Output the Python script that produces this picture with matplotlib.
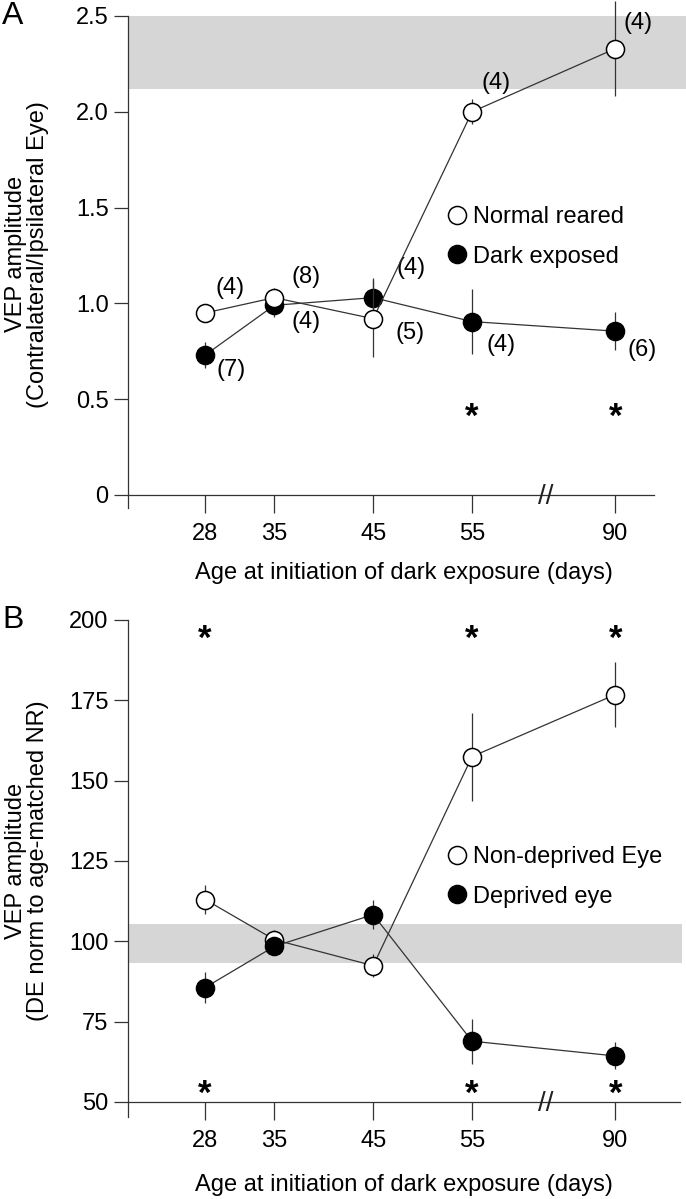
import numpy as np
import matplotlib
matplotlib.use('Agg')
import matplotlib.pyplot as plt
from matplotlib import font_manager
from matplotlib.lines import Line2D

names = {f.name for f in font_manager.fontManager.ttflist}
FAM = 'Liberation Sans Narrow' if 'Liberation Sans Narrow' in names else 'Liberation Sans'
plt.rcParams['font.family'] = [FAM, 'DejaVu Sans']

# ---------------- data ----------------
days = [28, 35, 45, 55, 90]
tick_labels = ['28', '35', '45', '55', '90']

# Panel A: contra/ipsi ratio
nr_mean = [0.95, 1.03, 0.92, 2.00, 2.33]
nr_err = [0.03, 0.05, 0.20, 0.065, 0.25]
nr_n = [4, 8, 5, 4, 4]
de_mean = [0.73, 0.99, 1.03, 0.905, 0.855]
de_err = [0.066, 0.06, 0.10, 0.17, 0.10]
de_n = [7, 4, 4, 4, 6]
sigA = [55, 90]
bandA = (2.12, 2.5)

# Panel B: DE normalised to age-matched NR
nd_mean = [113.0, 100.5, 92.4, 157.5, 176.8]
nd_err = [4.4, 3.0, 3.5, 13.7, 10.0]
dv_mean = [85.6, 98.4, 108.3, 68.9, 64.3]
dv_err = [4.9, 2.0, 4.4, 7.0, 4.2]
sigB = [28, 55, 90]
bandB = (93.3, 105.4)

# ---------------- style ----------------
FS = 17
W, H = 686, 1199
LC = '#333333'
BAND = '#d6d6d6'
MS = 13
K = 14.5 / 35.0  # compression of broken segment beyond 55 days


def fwd(x):
    x = np.asarray(x, dtype=float)
    return np.where(x <= 55, x, 55 + (x - 55) * K)


def inv(x):
    x = np.asarray(x, dtype=float)
    return np.where(x <= 55, x, 55 + (x - 55) / K)


fig = plt.figure(figsize=(W / 100, H / 100), dpi=100)
axA = fig.add_axes([128 / W, 1 - 508 / H, 526 / W, 492 / H])
axB = fig.add_axes([128 / W, 1 - 1117 / H, 552 / W, 497 / H])


def style_axes(ax, ylim, yticks, yticklabels, xright_px, base):
    ax.set_xscale('function', functions=(fwd, inv))
    ax.set_xlim(20.2, float(inv(55 + (xright_px - 472) / 9.89)))
    ax.set_ylim(*ylim)
    for s in ['top', 'right']:
        ax.spines[s].set_visible(False)
    ax.spines['bottom'].set_position(('data', base))
    for s in ['left', 'bottom']:
        ax.spines[s].set_linewidth(0.9)
        ax.spines[s].set_color(LC)
    ax.set_xticks(days)
    ax.set_xticklabels(tick_labels)
    ax.set_yticks(yticks)
    ax.set_yticklabels(yticklabels)
    ax.tick_params(axis='x', direction='out', length=13, width=0.9, color=LC,
                   pad=7, labelsize=FS)
    ax.tick_params(axis='y', direction='out', length=10, width=0.9, color=LC,
                   pad=4, labelsize=FS)
    ax.minorticks_off()
    ax.annotate('//', xy=(72.9, base), xytext=(0, -2), textcoords='offset pixels',
                ha='center', va='center', fontsize=20, color='#222222', zorder=6,
                annotation_clip=False)
    ax.set_xlabel('Age at initiation of dark exposure (days)', fontsize=FS)
    ax.xaxis.label.set_va('center')


def draw_series(ax, mean, err, filled, z):
    ax.errorbar(days, mean, yerr=err, fmt='none', ecolor=LC, elinewidth=0.9,
                capsize=0, zorder=z, clip_on=False)
    ax.plot(days, mean, '-', color=LC, lw=0.9, zorder=z + 0.1, clip_on=False)
    ax.plot(days, mean, 'o', ls='none', ms=MS,
            mfc='black' if filled else 'white', mec='black', mew=1.1,
            zorder=z + 0.2, clip_on=False)


def set_ylabel(ax, text, axw):
    ax.set_ylabel(text, fontsize=FS, linespacing=1.05)
    ax.yaxis.label.set_va('center')
    ax.yaxis.set_label_coords((27 - 128) / axw, 0.516)


# ---------------- Panel A ----------------
style_axes(axA, (-0.068, 2.5), [0, 0.5, 1.0, 1.5, 2.0, 2.5],
           ['0', '0.5', '1.0', '1.5', '2.0', '2.5'], 654, 0)
axA.axhspan(bandA[0], bandA[1], xmin=0, xmax=(W - 128) / 526, color=BAND,
            lw=0, zorder=0, clip_on=False)
draw_series(axA, de_mean, de_err, True, 3)
draw_series(axA, nr_mean, nr_err, False, 4)

nr_off = [(25, -25), (32, -21), (37, 14), (24, -29), (23, -26)]
de_off = [(26, 15), (32, 17), (38, -30), (29, 23), (27, 19)]
for d, m, n, (dx, dy) in zip(days, nr_mean, nr_n, nr_off):
    axA.annotate(f'({n})', xy=(d, m), xytext=(dx, -dy), textcoords='offset pixels',
                 ha='center', va='center', fontsize=FS, annotation_clip=False)
for d, m, n, (dx, dy) in zip(days, de_mean, de_n, de_off):
    axA.annotate(f'({n})', xy=(d, m), xytext=(dx, -dy), textcoords='offset pixels',
                 ha='center', va='center', fontsize=FS, annotation_clip=False)
for d in sigA:
    axA.annotate('*', xy=(d, 0.45), xytext=(0, -18), textcoords='offset pixels',
                 ha='center', va='baseline', fontsize=25, fontweight='bold')

set_ylabel(axA, 'VEP amplitude\n(Contralateral/Ipsilateral Eye)', 526)
axA.xaxis.set_label_coords((404 - 128) / 526, (508 - 573) / 492)

hA = [Line2D([], [], ls='none', marker='o', ms=MS, mfc='white', mec='black', mew=1.1),
      Line2D([], [], ls='none', marker='o', ms=MS, mfc='black', mec='black', mew=1.1)]
axA.legend(hA, ['Normal reared', 'Dark exposed'], loc='upper left',
           bbox_to_anchor=(445 / W, 1 - 206 / H), bbox_transform=fig.transFigure,
           frameon=False, handlelength=1.0, handletextpad=0.2, labelspacing=0.75,
           borderpad=0, borderaxespad=0, fontsize=FS)

fig.text(2 / W, 1 - 16 / H, 'A', fontsize=23, ha='left', va='center')

# ---------------- Panel B ----------------
style_axes(axB, (45.3, 200), [50, 75, 100, 125, 150, 175, 200],
           ['50', '75', '100', '125', '150', '175', '200'], 680, 50)
axB.axhspan(bandB[0], bandB[1], xmin=0, xmax=(682 - 128) / 552, color=BAND,
            lw=0, zorder=0, clip_on=False)
draw_series(axB, nd_mean, nd_err, False, 3)
draw_series(axB, dv_mean, dv_err, True, 4)
for d in sigB:
    axB.annotate('*', xy=(d, 196), xytext=(0, -16), textcoords='offset pixels',
                 ha='center', va='baseline', fontsize=25, fontweight='bold')
    axB.annotate('*', xy=(d, 54.5), xytext=(0, -16), textcoords='offset pixels',
                 ha='center', va='baseline', fontsize=25, fontweight='bold')

set_ylabel(axB, 'VEP amplitude\n(DE norm to age-matched NR)', 552)
axB.xaxis.set_label_coords((404 - 128) / 552, (1117 - 1185) / 497)

hB = [Line2D([], [], ls='none', marker='o', ms=MS, mfc='white', mec='black', mew=1.1),
      Line2D([], [], ls='none', marker='o', ms=MS, mfc='black', mec='black', mew=1.1)]
axB.legend(hB, ['Non-deprived Eye', 'Deprived eye'], loc='upper left',
           bbox_to_anchor=(445 / W, 1 - 846 / H), bbox_transform=fig.transFigure,
           frameon=False, handlelength=1.0, handletextpad=0.2, labelspacing=0.75,
           borderpad=0, borderaxespad=0, fontsize=FS)

fig.text(2 / W, 1 - 620 / H, 'B', fontsize=23, ha='left', va='center')

fig.savefig('out.png', dpi=100)
